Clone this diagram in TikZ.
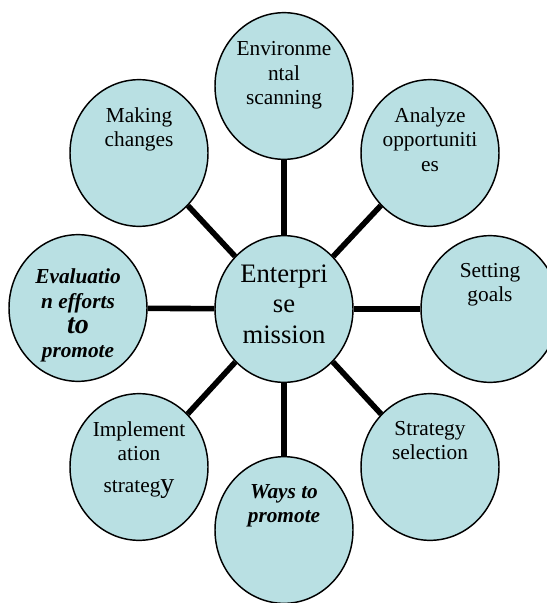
\documentclass[tikz,border=0pt]{standalone}
\usepackage{fontspec}
\setmainfont{Liberation Serif}
\usepackage{tikz}
\usetikzlibrary{shapes.geometric,positioning}
\definecolor{bubblefill}{RGB}{185,224,227}
\tikzset{
  bubble/.style={ellipse,draw,line width=1.1pt,fill=bubblefill,inner sep=0pt,
    minimum width=103.5pt,minimum height=110pt},
  txt/.style={align=center,inner sep=0pt,font=\fontsize{16}{18.5}\selectfont},
  spoke/.style={line width=4.2pt}
}

\begin{document}
\begin{tikzpicture}[x=0.75pt,y=-0.75pt]
    \useasboundingbox (0,0) rectangle (546,603);
    \node[bubble](ent) at (284,309){};
    \node[bubble](env) at (284,86){};
    \node[bubble](make) at (139,153){};
    \node[bubble](anal) at (430,153){};
    \node[bubble](eval) at (78,308){};
    \node[bubble](goal) at (490,309){};
    \node[bubble](impl) at (139,467){};
    \node[bubble](strat) at (430,467){};
    \node[bubble](ways) at (284,530){};
    \draw[spoke] (ent)--(env);
    \draw[spoke] (ent)--(make);
    \draw[spoke] (ent)--(anal);
    \draw[spoke] (ent)--(eval);
    \draw[spoke] (ent)--(goal);
    \draw[spoke] (ent)--(impl);
    \draw[spoke] (ent)--(strat);
    \draw[spoke] (ent)--(ways);
    \node[txt,font=\fontsize{20}{23}\selectfont,below=22pt of ent.north](entT){Enterpri\\se\\mission};
    \node[txt,below=22pt of env.north](envT){Environme\\ntal\\scanning};
    \node[txt,below=21pt of make.north](makeT){Making\\changes};
    \node[txt,below=21pt of anal.north](analT){Analyze\\opportuniti\\es};
    \node[txt,font=\fontsize{16}{18.5}\bfseries\itshape\selectfont,below=26pt of eval.north](evalT){Evaluatio\\n efforts\\{\fontsize{21}{22}\selectfont to}\\promote};
    \node[txt,below=21pt of goal.north](goalT){Setting\\goals};
    \node[txt,below=21pt of impl.north](implT){Implement\\ation\\[5pt]strateg{\fontsize{21}{22}\selectfont y}};
    \node[txt,below=21pt of strat.north](stratT){Strategy\\selection};
    \node[txt,font=\fontsize{16}{18.5}\bfseries\itshape\selectfont,below=21pt of ways.north](waysT){Ways to\\promote};
\end{tikzpicture}
\end{document}
